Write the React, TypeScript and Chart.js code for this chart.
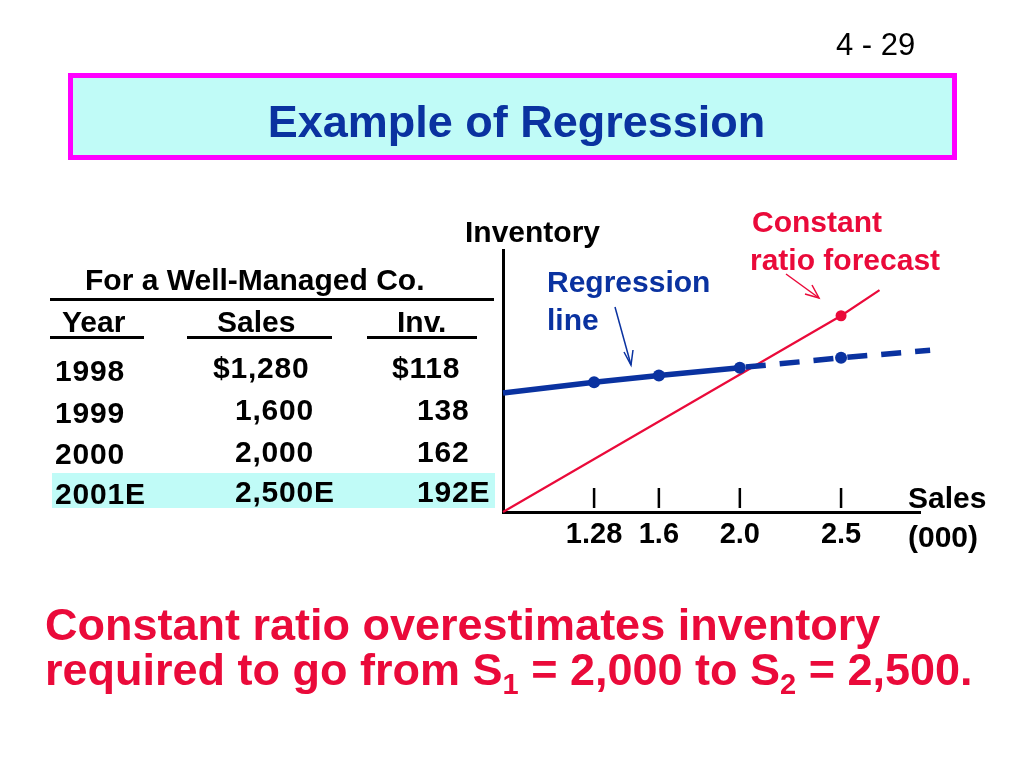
import React, { useEffect, useRef } from "react";
import { Chart, registerables } from "chart.js";

Chart.register(...registerables);

// ---- data ----
const salesTicks = [1.28, 1.6, 2.0, 2.5];
const tickLabels = ["1.28", "1.6", "2.0", "2.5"];
const regressionX = [0.83, 1.28, 1.6, 2.0];
const regressionY = [85, 118, 138, 162];
const forecastX = [2.0, 2.5, 2.94];
const forecastY = [162, 192, 215];
const constantRatioX = [0.83, 2.5, 2.69];
const constantRatioY = [-277, 320, 398];
const years = ["1998", "1999", "2000", "2001E"];
const salesValues = ["$1,280", "1,600", "2,000", "2,500E"];
const invValues = ["$118", "138", "162", "192E"];

const FONT = "'Liberation Sans', Arial, Helvetica, sans-serif";
const BLUE = "#0a32a0";
const RED = "#ea0a3a";
const CYAN = "#c0fbf7";

const tickMarks = {
  id: "tickMarks",
  afterDraw(chart: any) {
    const { ctx, chartArea, scales } = chart;
    const xs = scales.x;
    ctx.save();
    ctx.strokeStyle = "#000";
    ctx.lineWidth = 2.5;
    xs.ticks.forEach((t: any) => {
      const px = xs.getPixelForValue(t.value);
      ctx.beginPath();
      ctx.moveTo(px, chartArea.bottom - 24);
      ctx.lineTo(px, chartArea.bottom - 4);
      ctx.stroke();
    });
    ctx.restore();
  },
};

function ChartCanvas() {
  const ref = useRef<HTMLCanvasElement | null>(null);
  useEffect(() => {
    if (!ref.current) return;
    const zip = (xs: number[], ys: number[]) => xs.map((x, i) => ({ x, y: ys[i] }));
    const chart = new Chart(ref.current, {
      type: "line",
      data: {
        datasets: [
          {
            label: "Regression line",
            data: zip(regressionX, regressionY),
            borderColor: BLUE,
            backgroundColor: BLUE,
            borderWidth: 5.5,
            pointRadius: [0, 6, 6, 6],
            pointBorderWidth: 0,
            pointBackgroundColor: BLUE,
            clip: false as any,
          },
          {
            label: "Regression forecast",
            data: zip(forecastX, forecastY),
            borderColor: BLUE,
            backgroundColor: BLUE,
            borderWidth: 5.5,
            borderDash: [20, 14],
            borderDashOffset: 28,
            pointRadius: [0, 6, 0],
            pointBorderWidth: 0,
            pointBackgroundColor: BLUE,
            clip: false as any,
          },
          {
            label: "Constant ratio forecast",
            data: zip(constantRatioX, constantRatioY),
            borderColor: RED,
            backgroundColor: RED,
            borderWidth: 2.2,
            pointRadius: [0, 5.5, 0],
            pointBorderWidth: 0,
            pointBackgroundColor: RED,
            clip: false as any,
          },
        ],
      },
      options: {
        animation: false,
        responsive: false,
        maintainAspectRatio: false,
        events: [],
        layout: { padding: { left: 503, right: 104, top: 250, bottom: 196 } },
        plugins: { legend: { display: false }, tooltip: { enabled: false } },
        scales: {
          x: {
            type: "linear",
            min: 0.83,
            max: 2.89,
            afterBuildTicks: (s: any) => {
              s.ticks = salesTicks.map((v) => ({ value: v }));
            },
            afterFit: (s: any) => {
              s.height = 60;
            },
            grid: { display: true, drawOnChartArea: false, drawTicks: false, color: "rgba(0,0,0,0)" },
            border: { display: true, color: "#000", width: 3 },
            ticks: {
              autoSkip: false,
              maxRotation: 0,
              padding: 6,
              color: "#000",
              font: { family: FONT, size: 29, weight: "bold" },
              callback: (v: any) => {
                const i = salesTicks.indexOf(Number(v));
                return i >= 0 ? tickLabels[i] : "";
              },
            },
          },
          y: {
            type: "linear",
            min: -277,
            max: 520,
            afterFit: (s: any) => {
              s.width = 0;
            },
            grid: { display: true, drawOnChartArea: false, drawTicks: false, color: "rgba(0,0,0,0)" },
            border: { display: true, color: "#000", width: 3 },
            ticks: { display: false },
          },
        },
      },
      plugins: [tickMarks],
    });
    return () => chart.destroy();
  }, []);
  return (
    <canvas
      ref={ref}
      width={1024}
      height={768}
      style={{ position: "absolute", left: 0, top: 0, width: 1024, height: 768 }}
    />
  );
}

function T(props: {
  x: number;
  cy: number;
  size: number;
  color?: string;
  bold?: boolean;
  children: React.ReactNode;
  ls?: number;
}) {
  const { x, cy, size, color = "#000", bold = true, children, ls = 0 } = props;
  return (
    <div
      style={{
        position: "absolute",
        left: x,
        top: cy - size * 0.49,
        fontSize: size,
        lineHeight: `${size}px`,
        fontWeight: bold ? 700 : 400,
        color,
        whiteSpace: "nowrap",
        letterSpacing: ls,
      }}
    >
      {children}
    </div>
  );
}

function Rule(props: { x1: number; x2: number; y: number }) {
  return (
    <div
      style={{
        position: "absolute",
        left: props.x1,
        top: props.y - 1.5,
        width: props.x2 - props.x1,
        height: 3,
        background: "#000",
      }}
    />
  );
}

export default function App() {
  const rowYear = [371, 413, 454, 494];
  const rowVal = [368, 410, 452, 492];
  return (
    <div
      style={{
        position: "fixed",
        left: 0,
        top: 0,
        width: 1024,
        height: 768,
        background: "#fff",
        fontFamily: FONT,
        overflow: "hidden",
      }}
    >
      {/* highlighted row */}
      <div style={{ position: "absolute", left: 52, top: 473, width: 443, height: 35, background: CYAN }} />

      <ChartCanvas />

      {/* page number */}
      <T x={836} cy={44} size={31} bold={false}>
        4 - 29
      </T>

      {/* title box */}
      <div
        style={{
          position: "absolute",
          left: 68,
          top: 73,
          width: 889,
          height: 87,
          boxSizing: "border-box",
          border: "5px solid #ff00ff",
          background: CYAN,
        }}
      />
      <div
        style={{
          position: "absolute",
          left: 72,
          top: 121 - 45 * 0.49,
          width: 889,
          textAlign: "center",
          fontSize: 45,
          lineHeight: "45px",
          fontWeight: 700,
          color: BLUE,
          whiteSpace: "nowrap",
        }}
      >
        Example of Regression
      </div>

      {/* table */}
      <T x={85} cy={280} size={30}>
        For a Well-Managed Co.
      </T>
      <Rule x1={50} x2={494} y={299} />
      <T x={62} cy={322} size={30}>
        Year
      </T>
      <T x={217} cy={322} size={30}>
        Sales
      </T>
      <T x={397} cy={322} size={30}>
        Inv.
      </T>
      <Rule x1={50} x2={144} y={337} />
      <Rule x1={187} x2={332} y={337} />
      <Rule x1={367} x2={477} y={337} />
      {years.map((y, i) => (
        <T key={"y" + i} x={55} cy={rowYear[i]} size={30} ls={0.8}>
          {y}
        </T>
      ))}
      {salesValues.map((s, i) => (
        <T key={"s" + i} x={i === 0 ? 213 : 235} cy={rowVal[i]} size={30} ls={0.8}>
          {s}
        </T>
      ))}
      {invValues.map((s, i) => (
        <T key={"v" + i} x={i === 0 ? 392 : 417} cy={rowVal[i]} size={30} ls={0.8}>
          {s}
        </T>
      ))}

      {/* chart annotations */}
      <T x={465} cy={232} size={30}>
        Inventory
      </T>
      <T x={752} cy={222} size={30} color={RED}>
        Constant
      </T>
      <T x={750} cy={260} size={30} color={RED}>
        ratio forecast
      </T>
      <T x={547} cy={282} size={30} color={BLUE}>
        Regression
      </T>
      <T x={547} cy={320} size={30} color={BLUE}>
        line
      </T>
      <T x={908} cy={498} size={30}>
        Sales
      </T>
      <T x={908} cy={537} size={30}>
        (000)
      </T>

      <svg
        width={1024}
        height={768}
        style={{ position: "absolute", left: 0, top: 0, pointerEvents: "none" }}
      >
        <line x1={615} y1={307} x2={631} y2={365} stroke={BLUE} strokeWidth={1.5} />
        <polyline points="624,352 631,365 633,350" fill="none" stroke={BLUE} strokeWidth={1.5} />
        <line x1={786} y1={274} x2={819} y2={298} stroke={RED} strokeWidth={1.5} />
        <polyline points="805,294 819,298 812,285" fill="none" stroke={RED} strokeWidth={1.5} />
      </svg>

      {/* conclusion */}
      <div
        style={{
          position: "absolute",
          left: 45,
          top: 602,
          fontSize: 45,
          lineHeight: "45px",
          fontWeight: 700,
          color: RED,
          whiteSpace: "nowrap",
        }}
      >
        Constant ratio overestimates inventory
      </div>
      <div
        style={{
          position: "absolute",
          left: 45,
          top: 647,
          fontSize: 45,
          lineHeight: "45px",
          fontWeight: 700,
          color: RED,
          whiteSpace: "nowrap",
        }}
      >
        required to go from S
        <span style={{ fontSize: 29, position: "relative", top: 9 }}>1</span> = 2,000 to S
        <span style={{ fontSize: 29, position: "relative", top: 9 }}>2</span> = 2,500.
      </div>
    </div>
  );
}
